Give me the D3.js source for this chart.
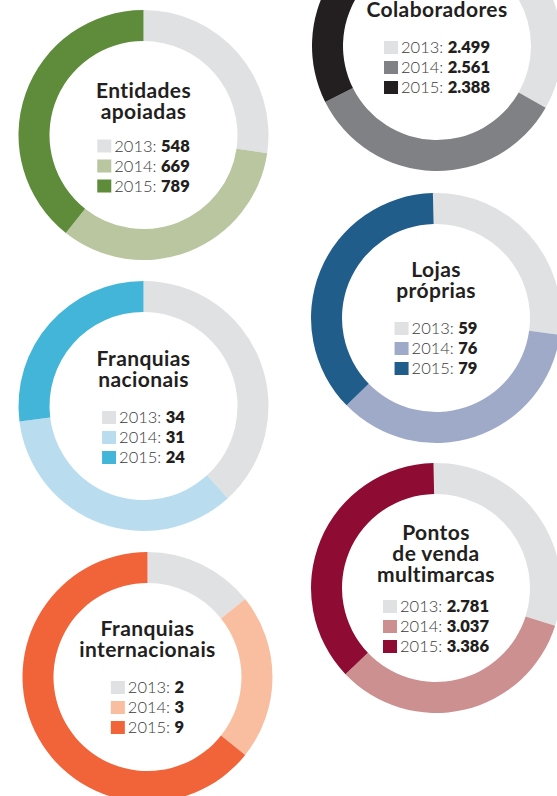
<!DOCTYPE html>
<html>
<head>
<meta charset="utf-8">
<script src="https://cdn.jsdelivr.net/npm/d3@7"></script>
<style>
  html, body { margin: 0; padding: 0; background: #fff; overflow: hidden; }
  svg { display: block; }
</style>
</head>
<body>
<svg id="chart" width="557" height="796"></svg>
<script>
// ---- data ----
const years = ["2013", "2014", "2015"];
const titles = [
  ["Entidades", "apoiadas"],
  ["Colaboradores"],
  ["Franquias", "nacionais"],
  ["Lojas", "próprias"],
  ["Franquias", "internacionais"],
  ["Pontos", "de venda", "multimarcas"]
];
const entidadesApoiadas = [548, 669, 789];
const colaboradores = [2499, 2561, 2388];
const franquiasNacionais = [34, 31, 24];
const lojasProprias = [59, 76, 79];
const franquiasInternacionais = [2, 3, 9];
const pontosDeVenda = [2781, 3037, 3386];
const seriesValues = [entidadesApoiadas, colaboradores, franquiasNacionais,
                      lojasProprias, franquiasInternacionais, pontosDeVenda];

// ---- styles / layout ----
const gray = "#e0e1e3";
const palettes = [
  [gray, "#b9c6a0", "#5e8c3b"],
  [gray, "#808184", "#231f20"],
  [gray, "#b9ddef", "#43b5d9"],
  [gray, "#9eaac8", "#215d8b"],
  [gray, "#f9bda0", "#f1643a"],
  [gray, "#cd9090", "#8e0b33"]
];
const centers = [
  [143.5, 135], [437, 46], [143.5, 406],
  [436, 318], [147.5, 677], [436, 588]
];
const blockShift = [2, 1.5, 1, 0, 0, 0.5];
const titleGap = [33, 36, 36, 36, 36, 30];
const rotation = [0, -0.02, 0, -0.025, 0, -0.02];
const innerR = 94, outerR = 125;

const fmt = d3.formatLocale({decimal: ",", thousands: ".", grouping: [3], currency: ["", ""]}).format(",");

const svg = d3.select("#chart");
const arc = d3.arc().innerRadius(innerR).outerRadius(outerR);

const titleSize = 21, titleLine = 21, capH = 15, legLine = 20;
const legSize = 16.5;

seriesValues.forEach((vals, i) => {
  const [cx, cy] = centers[i];
  const g = svg.append("g").attr("transform", `translate(${cx},${cy})`);
  const color = d3.scaleOrdinal().domain(years).range(palettes[i]);
  const pie = d3.pie().sort(null).value(d => d)
    .startAngle(rotation[i]).endAngle(2 * Math.PI + rotation[i]);

  g.selectAll("path.seg")
    .data(pie(vals))
    .join("path")
    .attr("class", "seg")
    .attr("d", arc)
    .attr("fill", (d, j) => color(years[j]));

  const lines = titles[i];
  const gap = titleGap[i];
  const H = capH + (lines.length - 1) * titleLine + gap + 2 * legLine;
  const capTop = -H / 2 + blockShift[i];
  const firstBase = capTop + capH;

  const title = g.append("text")
    .attr("class", "title")
    .attr("text-anchor", "middle")
    .attr("font-family", "Lato, 'Open Sans', sans-serif")
    .attr("font-weight", 700)
    .attr("font-size", titleSize)
    .attr("letter-spacing", 0.4)
    .attr("fill", "#231f20");
  title.selectAll("tspan")
    .data(lines)
    .join("tspan")
    .attr("x", 0)
    .attr("y", (d, k) => firstBase + k * titleLine)
    .text(d => d);

  const legBase0 = firstBase + (lines.length - 1) * titleLine + gap;
  const leg = g.append("g");
  const rows = leg.selectAll("g.row")
    .data(years)
    .join("g")
    .attr("class", "row")
    .attr("transform", (d, k) => `translate(0,${legBase0 + k * legLine})`);

  rows.append("rect")
    .attr("x", 0).attr("y", -12)
    .attr("width", 14).attr("height", 13)
    .attr("fill", d => color(d));

  const t = rows.append("text")
    .attr("x", 17).attr("y", 0)
    .attr("font-family", "Lato, 'Open Sans', sans-serif")
    .attr("font-size", legSize)
    .attr("fill", "#3b3a3c");
  t.append("tspan").attr("font-weight", 300).text(d => d + ": ");
  t.append("tspan").attr("font-weight", 800).attr("fill", "#231f20")
    .text((d, k) => fmt(vals[k]));

  let maxW = 0;
  t.each(function () { maxW = Math.max(maxW, this.getComputedTextLength()); });
  const totalW = 17 + maxW;
  leg.attr("transform", `translate(${-totalW / 2},0)`);
});
</script>
</body>
</html>
